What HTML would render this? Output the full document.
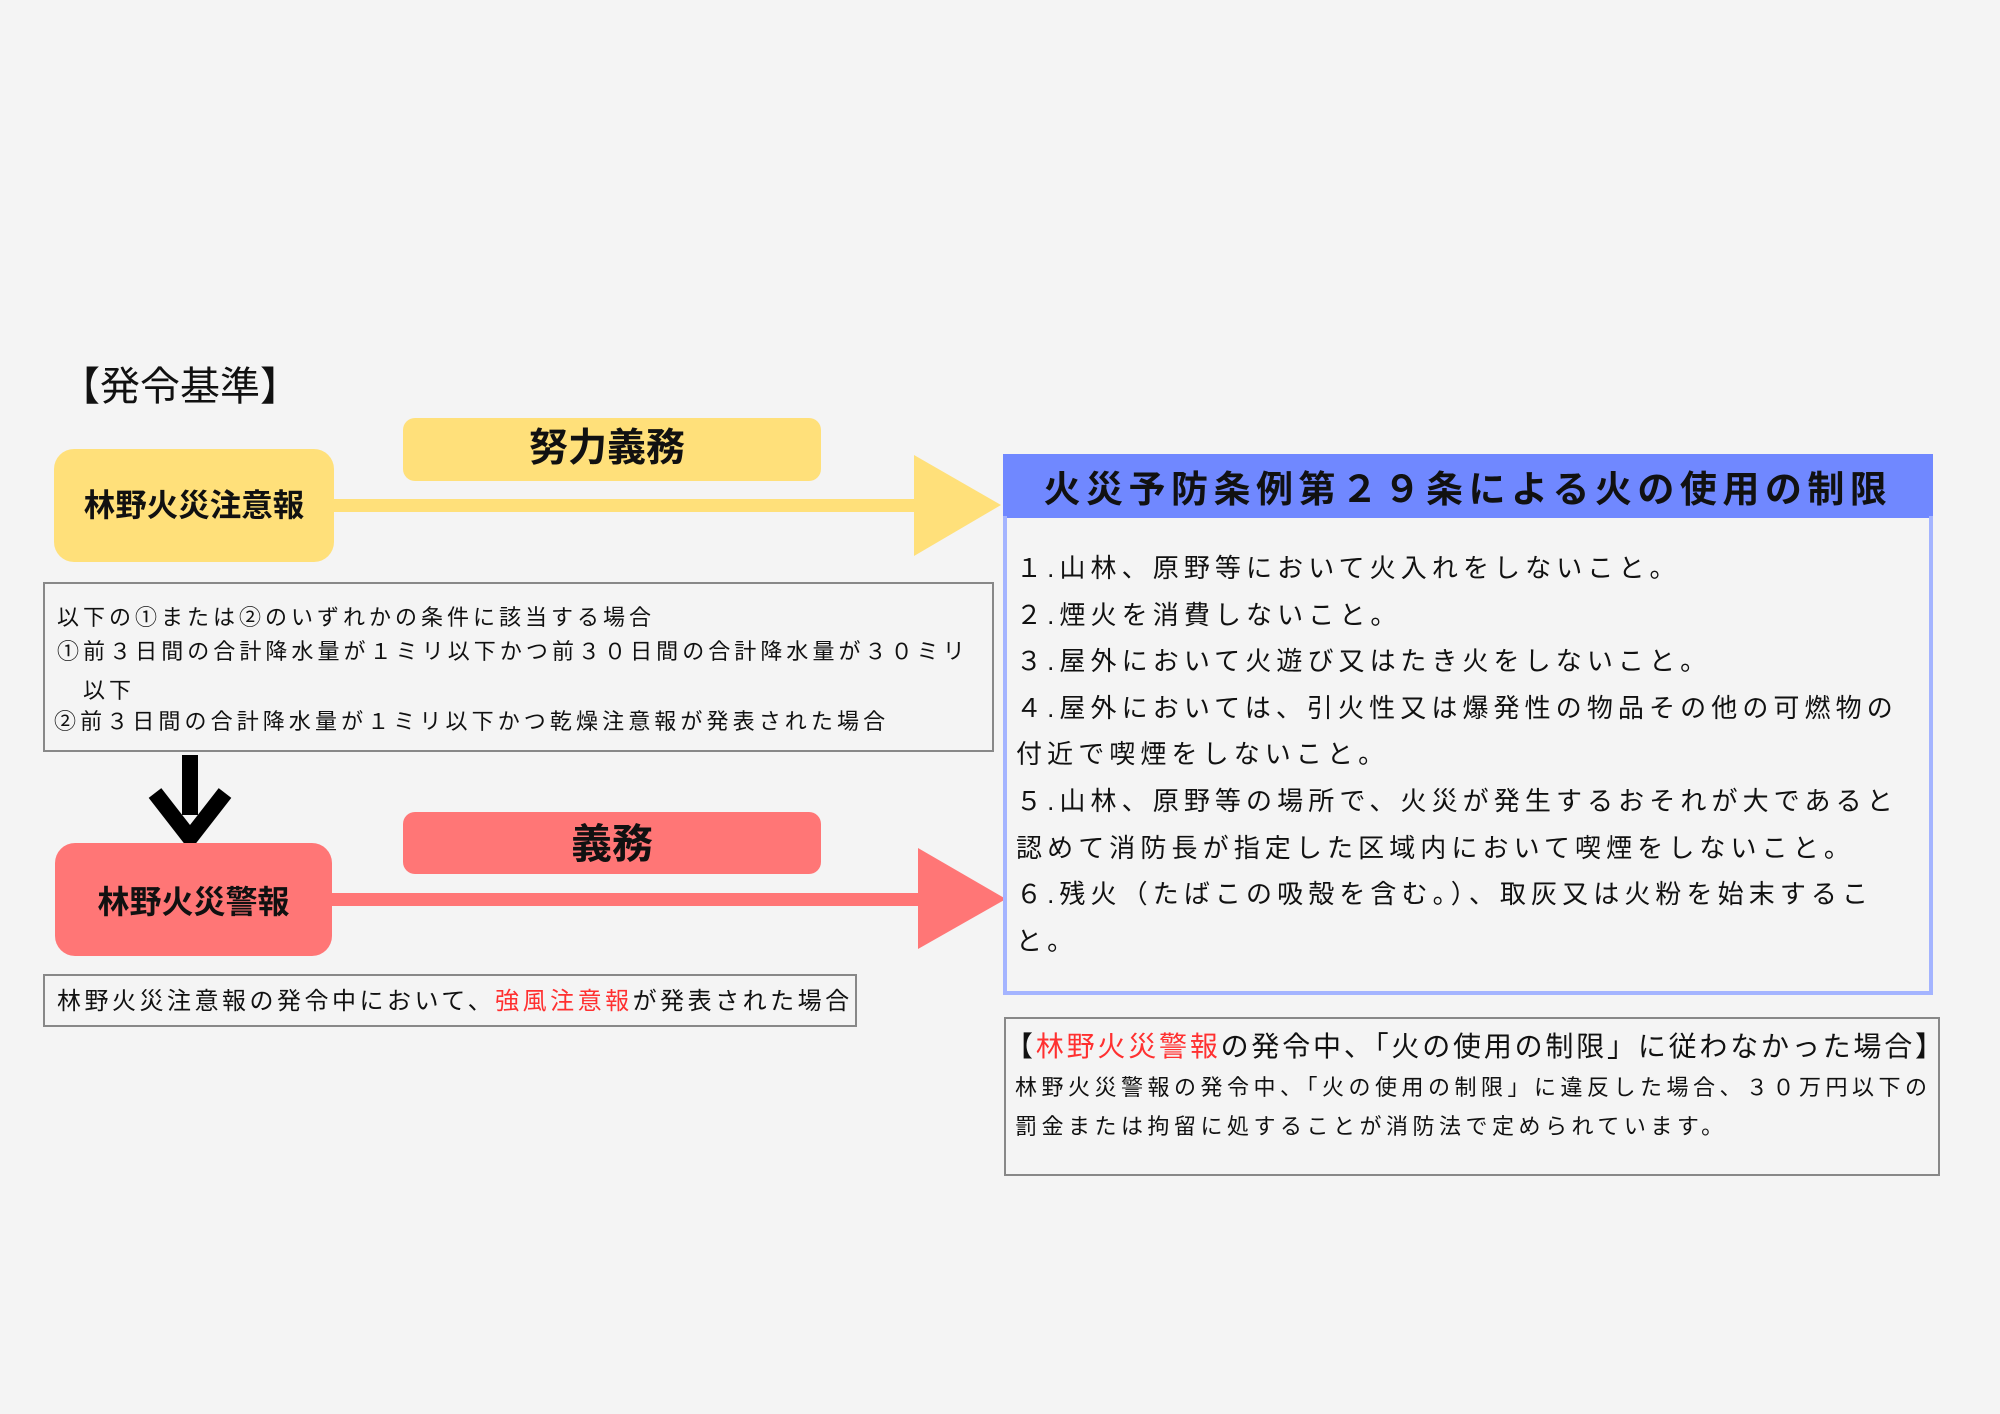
<!DOCTYPE html>
<html><head><meta charset="utf-8"><style>
body{margin:0;width:2000px;height:1414px;background:#f4f4f4;position:relative;overflow:hidden;font-family:"Liberation Sans","Noto Sans CJK JP",sans-serif;color:#111}
div{position:absolute;box-sizing:border-box;white-space:nowrap}
.l{height:40px;line-height:40px}
.b{font-weight:700;text-align:center}
.red{color:#ff3030}
</style></head><body>
<div class="l" style="left:60px;top:365px;font-size:40px;height:44px;line-height:44px">【発令基準】</div>

<div style="left:54px;top:449px;width:280px;height:113px;background:#ffe07a;border-radius:20px"></div>
<div class="l b" style="left:54px;top:485px;width:280px;font-size:31.5px">林野火災注意報</div>
<div style="left:403px;top:418px;width:418px;height:63px;background:#ffe07a;border-radius:12px"></div>
<div class="l b" style="left:398px;top:429px;width:418px;font-size:39px">努力義務</div>
<div style="left:334px;top:499px;width:582px;height:13px;background:#ffe07a"></div>
<svg style="position:absolute;left:0;top:0" width="2000" height="1414">
<polygon points="914,455 1001,505 914,556" fill="#ffe07a"/>
<polygon points="918,848 1006,899 918,949" fill="#ff7676"/>
<rect x="182" y="755" width="16" height="60" fill="#000"/>
<polyline points="155,793 190,838 225,793" fill="none" stroke="#000" stroke-width="16"/>
</svg>

<div style="left:43px;top:582px;width:951px;height:170px;border:2px solid #888"></div>
<div class="l" style="left:57px;top:598px;font-size:22px;letter-spacing:4px">以下の①または②のいずれかの条件に該当する場合</div>
<div class="l" style="left:57px;top:632px;font-size:22px;letter-spacing:4.05px">①前３日間の合計降水量が１ミリ以下かつ前３０日間の合計降水量が３０ミリ</div>
<div class="l" style="left:83px;top:671px;font-size:22px;letter-spacing:4px">以下</div>
<div class="l" style="left:54px;top:702px;font-size:22px;letter-spacing:4.1px">②前３日間の合計降水量が１ミリ以下かつ乾燥注意報が発表された場合</div>

<div style="left:55px;top:843px;width:277px;height:113px;background:#ff7676;border-radius:20px"></div>
<div class="l b" style="left:55px;top:882px;width:277px;font-size:32px">林野火災警報</div>
<div style="left:403px;top:812px;width:418px;height:62px;background:#ff7676;border-radius:12px"></div>
<div class="l b" style="left:403px;top:824px;width:418px;font-size:41px">義務</div>
<div style="left:325px;top:893px;width:595px;height:13px;background:#ff7676"></div>

<div style="left:43px;top:974px;width:814px;height:53px;border:2px solid #888"></div>
<div class="l" style="left:57px;top:982px;font-size:24px;letter-spacing:3.5px">林野火災注意報の発令中において、<span class="red">強風注意報</span>が発表された場合</div>

<div style="left:1003px;top:454px;width:930px;height:64px;background:#7088ff"></div>
<div class="l b" style="left:1003px;top:466px;width:930px;font-size:37px;letter-spacing:5.5px;height:48px;line-height:48px">火災予防条例第２９条による火の使用の制限</div>
<div style="left:1003px;top:516px;width:930px;height:479px;border:4px solid #a4b4ff;border-top:none"></div>
<div style="left:1016px;top:545px;font-size:26px;letter-spacing:5.1px;line-height:46.6px">１.山林、原野等において火入れをしないこと。<br>２.煙火を消費しないこと。<br>３.屋外において火遊び又はたき火をしないこと。<br>４.屋外においては、引火性又は爆発性の物品その他の可燃物の<br>付近で喫煙をしないこと。<br>５.山林、原野等の場所で、火災が発生するおそれが大であると<br>認めて消防長が指定した区域内において喫煙をしないこと。<br>６.残火（たばこの吸殻を含む。）、取灰又は火粉を始末するこ<br>と。</div>

<div style="left:1004px;top:1017px;width:936px;height:159px;border:2px solid #888"></div>
<div class="l" style="left:1005px;top:1027px;font-size:28px;letter-spacing:2.8px">【<span class="red">林野火災警報</span>の発令中、「火の使用の制限」に従わなかった場合】</div>
<div class="l" style="left:1015px;top:1068px;font-size:22px;letter-spacing:4.5px">林野火災警報の発令中、「火の使用の制限」に違反した場合、３０万円以下の</div>
<div class="l" style="left:1015px;top:1107px;font-size:22px;letter-spacing:4.5px">罰金または拘留に処することが消防法で定められています。</div>
</body></html>
